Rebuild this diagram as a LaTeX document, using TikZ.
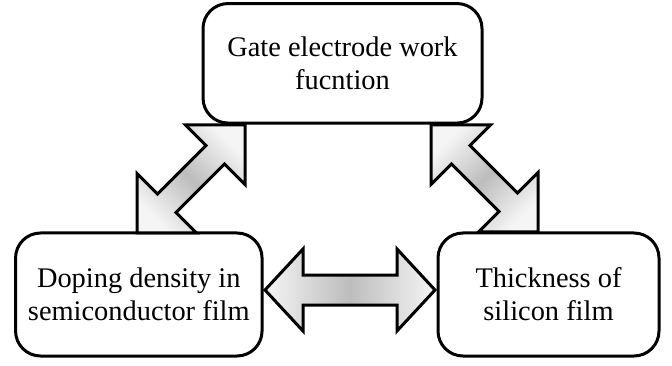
\documentclass[tikz,border=0pt]{standalone}
\usepackage{fontspec}
\setmainfont{Liberation Serif}
\begin{document}
\begin{tikzpicture}[x=1pt,y=-1pt,
  box/.style={draw=black, line width=3pt, rounded corners=25pt, fill=white,
    align=center, inner sep=0pt, font=\fontsize{28.4}{33}\selectfont},
  fatarrow/.style={draw=black, line width=3pt, line join=miter, miter limit=10}]
\useasboundingbox (0,0) rectangle (672,366);
% boxes
\node[box, minimum width=279pt, minimum height=119.5pt] (gate) at (342.5,63.3) {Gate electrode work\\fucntion};
\node[box, minimum width=246.5pt, minimum height=123pt] (doping) at (138.8,294.5) {Doping density in\\semiconductor film};
\node[box, minimum width=221pt, minimum height=123pt] (thick) at (548.5,294.5) {Thickness of\\silicon film};
% arrow tips
\coordinate (B) at (245,125);
\coordinate (C) at (431,125);
\coordinate (E) at (265,290);
% left diagonal double arrow (doping <-> gate)
\draw[fatarrow, top color=black!4, bottom color=black!4, middle color=black!26, shading angle=-45]
  (B) -- ++(0,59.4) -- ++(-20.5,-20.5) -- ++(-48.6,48.6) -- ++(20.5,20.5)
  -- ++(-59.4,0) -- ++(0,-59.4) -- ++(20.5,20.5) -- ++(48.6,-48.6) -- ++(-20.5,-20.5) -- cycle;
% right diagonal double arrow (gate <-> thickness)
\draw[fatarrow, top color=black!4, bottom color=black!4, middle color=black!26, shading angle=45]
  (C) -- ++(59.4,0) -- ++(-20.5,20.5) -- ++(47.6,47.6) -- ++(20.5,-20.5)
  -- ++(0,59.4) -- ++(-59.4,0) -- ++(20.5,-20.5) -- ++(-47.6,-47.6) -- ++(-20.5,20.5) -- cycle;
% horizontal double arrow (doping <-> thickness)
\draw[fatarrow, left color=black!4, right color=black!4, middle color=black!26]
  (E) -- ++(38,-41) -- ++(0,26) -- ++(94,0) -- ++(0,-26) -- ++(38,41)
  -- ++(-38,41) -- ++(0,-26) -- ++(-94,0) -- ++(0,26) -- cycle;
\end{tikzpicture}
\end{document}
